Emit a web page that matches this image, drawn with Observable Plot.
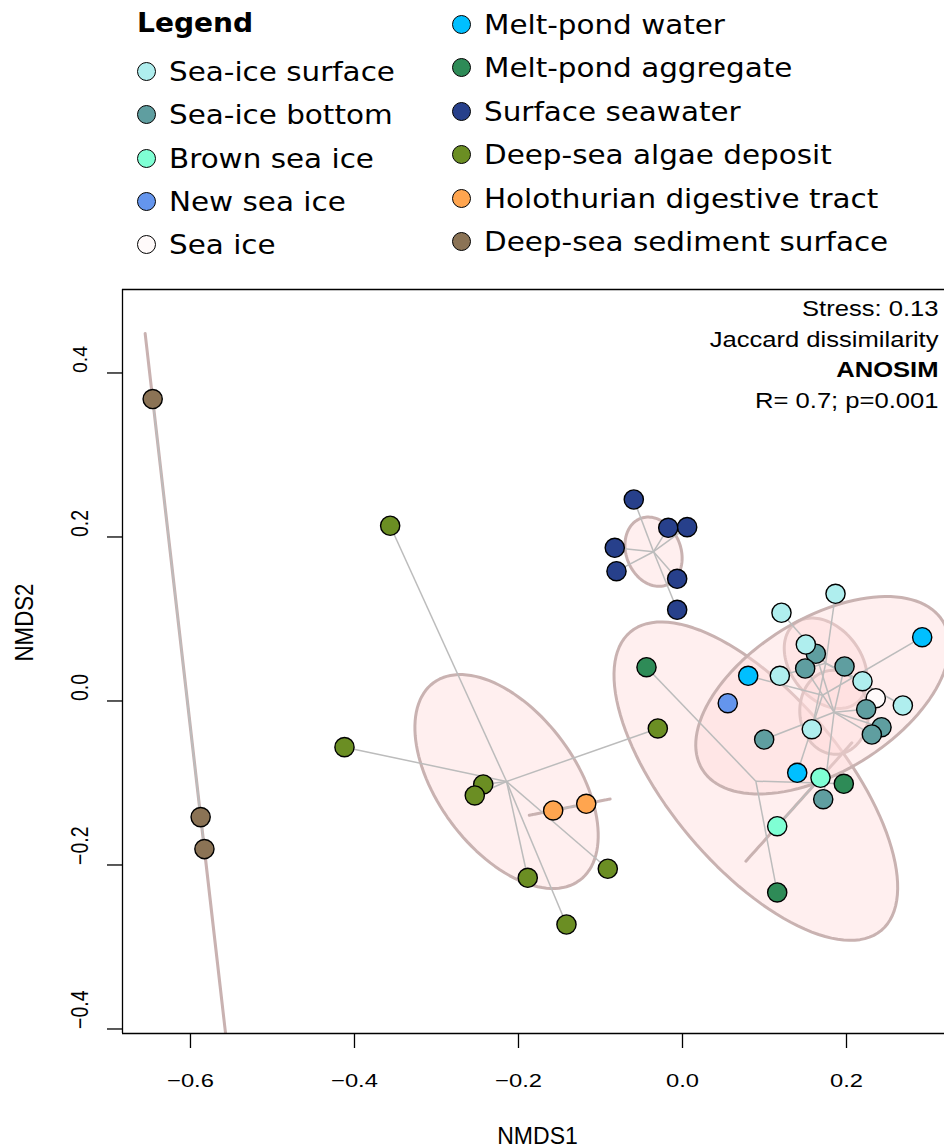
<!DOCTYPE html>
<html>
<head>
<meta charset="utf-8">
<script src="https://cdn.jsdelivr.net/npm/d3@7"></script>
<script src="https://cdn.jsdelivr.net/npm/@observablehq/plot@0.6"></script>
<style>
  html, body { margin: 0; padding: 0; background: #fff; overflow: hidden; }
  #legend { position: relative; height: 265px; font-family: "DejaVu Sans", sans-serif; color: #000; }
  #legend .title { position: absolute; left: 137px; top: 6px; font-size: 27px; font-weight: bold; line-height: 34px;
                   transform: scaleX(1.04); transform-origin: left center; }
  #legend .item { position: absolute; display: flex; align-items: center; height: 34px; white-space: nowrap;
                  font-size: 26.5px; }
  #legend .item .lab { display: inline-block; transform: scaleX(1.11); transform-origin: left center; }
  #legend .sw { width: 19px; height: 19px; border-radius: 50%; border: 1.4px solid #000; box-sizing: border-box;
                margin-right: 13px; flex: none; }
  #chart svg { display: block; }
</style>
</head>
<body>
<div id="legend"></div>
<div id="chart"></div>
<script>
// Sample types and their colours
const groups = [
  "Sea-ice surface", "Sea-ice bottom", "Brown sea ice", "New sea ice", "Sea ice",
  "Melt-pond water", "Melt-pond aggregate", "Surface seawater", "Deep-sea algae deposit",
  "Holothurian digestive tract", "Deep-sea sediment surface"
];
const groupColors = [
  "#AFEEEE", "#5F9EA0", "#7FFFD4", "#6495ED", "#FFFAFA",
  "#00BFFF", "#2E8B57", "#27408B", "#6B8E23", "#FFA54F", "#8B7355"
];

// NMDS sample scores, in plotting order (index into groups)
const sampleGroup = [
  10, 10, 10,
  8, 8, 8, 8, 8, 8, 8, 8,
  9, 9,
  7, 7, 7, 7, 7, 7, 7,
  6, 6, 6,
  0, 4, 1, 1, 1, 1, 1, 1, 1, 1,
  0, 0, 0, 0, 0, 0,
  2, 2, 3, 5, 5, 5
];
const nmds1 = [
  -0.6461, -0.5876, -0.5830,
  -0.3565, -0.4122, -0.2430, -0.2533, -0.0301, -0.1887, -0.0911, -0.1415,
  -0.1577, -0.1174,
  -0.0594, -0.0174, 0.0057, -0.0826, -0.0805, -0.0065, -0.0065,
  -0.0439, 0.1967, 0.1155,
  0.2195, 0.2357, 0.2240, 0.2427, 0.2309, 0.1626, 0.1496, 0.1976, 0.0996, 0.1716,
  0.1866, 0.1207, 0.1504, 0.1187, 0.2687, 0.1577,
  0.1683, 0.1155, 0.0552, 0.0801, 0.2923, 0.1399
];
const nmds2 = [
  0.3682, -0.1416, -0.1806,
  0.2137, -0.0563, -0.1018, -0.1152, -0.0335, -0.2156, -0.2046, -0.2726,
  -0.1335, -0.1254,
  0.2457, 0.2112, 0.2120, 0.1868, 0.1583, 0.1490, 0.1112,
  0.0412, -0.1010, -0.2335,
  0.0241, 0.0034, -0.0100, -0.0320, -0.0409, 0.0576, 0.0396, 0.0421, -0.0470, -0.1198,
  0.1307, 0.1076, 0.0689, 0.0307, -0.0055, -0.0344,
  -0.0937, -0.1527, -0.0027, 0.0307, 0.0778, -0.0876
];

const xTicks = [-0.6, -0.4, -0.2, 0.0, 0.2];
const yTicks = [-0.4, -0.2, 0.0, 0.2, 0.4];
const xDomain = [-0.6829, 0.3195];
const yDomain = [-0.4055, 0.5018];
const statsLines = ["Stress: 0.13", "Jaccard dissimilarity", "ANOSIM", "R= 0.7; p=0.001"];

// ---- legend ----
const legend = document.getElementById("legend");
const title = document.createElement("div");
title.className = "title";
title.textContent = "Legend";
legend.appendChild(title);
groups.forEach((g, i) => {
  const leftCol = i < 5;
  const row = leftCol ? i : i - 5;
  const cx = leftCol ? 146.7 : 461;
  const cy = leftCol ? 71.7 + row * 43.2 : 24 + row * 43.5;
  const item = document.createElement("div");
  item.className = "item";
  item.style.left = (cx - 9.5) + "px";
  item.style.top = (cy - 17) + "px";
  const sw = document.createElement("span");
  sw.className = "sw";
  sw.style.background = groupColors[i];
  const tx = document.createElement("span");
  tx.className = "lab";
  tx.textContent = g;
  item.appendChild(sw);
  item.appendChild(tx);
  legend.appendChild(item);
});

// ---- samples, centroids (spider centres) and standard-error ellipses ----
const samples = sampleGroup.map((g, i) => ({group: groups[g], x: nmds1[i], y: nmds2[i]}));
const byGroup = d3.group(samples, d => d.group);
const centroid = new Map();
for (const [g, pts] of byGroup) centroid.set(g, [d3.mean(pts, d => d.x), d3.mean(pts, d => d.y)]);
for (const s of samples) { const c = centroid.get(s.group); s.cx = c[0]; s.cy = c[1]; }

const chiScale = Math.sqrt(5.991465); // sqrt(qchisq(0.95, 2))
const ellipses = [];
for (const [g, pts] of byGroup) {
  const n = pts.length;
  if (n < 2) continue;
  const [mx, my] = centroid.get(g);
  let sxx = 0, syy = 0, sxy = 0;
  for (const p of pts) {
    sxx += (p.x - mx) ** 2; syy += (p.y - my) ** 2; sxy += (p.x - mx) * (p.y - my);
  }
  const k = 1 / ((n - 1) * n); // covariance of the mean
  sxx *= k; syy *= k; sxy *= k;
  const tr = (sxx + syy) / 2;
  const dd = Math.sqrt(((sxx - syy) / 2) ** 2 + sxy ** 2);
  const a = chiScale * Math.sqrt(tr + dd);
  const b = chiScale * Math.sqrt(Math.max(0, tr - dd));
  const ang = 0.5 * Math.atan2(2 * sxy, sxx - syy);
  for (let i = 0; i <= 120; i++) {
    const t = 2 * Math.PI * i / 120;
    const u = a * Math.cos(t), v = b * Math.sin(t);
    ellipses.push({group: g, x: mx + u * Math.cos(ang) - v * Math.sin(ang), y: my + u * Math.sin(ang) + v * Math.cos(ang)});
  }
}

const fmt = d3.format(".1f");

const chart = Plot.plot({
  width: 944,
  height: 883,
  marginLeft: 122,
  marginRight: 0,
  marginTop: 24,
  marginBottom: 115,
  x: {domain: xDomain},
  y: {domain: yDomain},
  color: {domain: groups, range: groupColors},
  style: {fontFamily: "'Liberation Sans', Arial, sans-serif", background: "#fff", color: "#000"},
  marks: [
    Plot.line(ellipses, {x: "x", y: "y", z: "group", fill: "#ffdcdc", fillOpacity: 0.45,
      stroke: "#c9b2b1", strokeWidth: 3, clip: true}),
    Plot.link(samples, {x1: "cx", y1: "cy", x2: "x", y2: "y", stroke: "#bcbcbc", strokeWidth: 1.5}),
    Plot.dot(samples, {x: "x", y: "y", fill: "group", stroke: "#000", strokeWidth: 1.4, r: 9.6}),
    Plot.ruleY([yDomain[0], yDomain[1]], {stroke: "#000", strokeWidth: 1.3}),
    Plot.ruleX([xDomain[0]], {stroke: "#000", strokeWidth: 1.3}),
    Plot.axisX(xTicks, {tickSize: 15, tickFormat: () => "", label: null, strokeWidth: 1.3}),
    Plot.axisY(yTicks, {tickSize: 15, tickFormat: () => "", label: null, strokeWidth: 1.3}),
    Plot.text(xTicks, {x: d => d, frameAnchor: "bottom", dy: 40, lineAnchor: "top", text: fmt, fontSize: 19}),
    Plot.text(yTicks, {y: d => d, frameAnchor: "left", dx: -42, rotate: -90, lineAnchor: "middle",
      text: fmt, fontSize: 19.5}),
    Plot.text(["NMDS1"], {frameAnchor: "bottom", dx: 4, dy: 94, lineAnchor: "top", fontSize: 23}),
    Plot.text(["NMDS2"], {frameAnchor: "left", dx: -98, rotate: -90, lineAnchor: "middle", fontSize: 22.3}),
    ...statsLines.map((t, i) => Plot.text([t], {frameAnchor: "top-right", dx: -6, dy: 11.7 + i * 30.35,
      textAnchor: "end", lineAnchor: "top", fontSize: 21.5, fontWeight: i === 2 ? "bold" : "normal"}))
  ]
});

document.getElementById("chart").appendChild(chart);

// widen the glyphs of the annotation texts about their own anchors
function widen(test, sx, sy) {
  d3.select(chart).selectAll("text").filter(function () { return test(this); }).each(function () {
    const t = this.getAttribute("transform");
    if (t) {
      this.setAttribute("transform", `${t} scale(${sx},${sy})`);
    } else {
      const x = +this.getAttribute("x") || 0, y = +this.getAttribute("y") || 0;
      this.setAttribute("transform", `translate(${x},${y}) scale(${sx},${sy}) translate(${-x},${-y})`);
    }
  });
}
const tickTexts = new Set(xTicks.map(fmt));
const box = el => el.getBoundingClientRect();
widen(el => statsLines.includes(el.textContent), 1.19, 1);
widen(el => tickTexts.has(el.textContent) && box(el).top > 1040, 1.25, 1);
widen(el => tickTexts.has(el.textContent) && box(el).right < 110, 1, 1.2);
widen(el => el.textContent === "NMDS2", 1, 1.15);
</script>
</body>
</html>
